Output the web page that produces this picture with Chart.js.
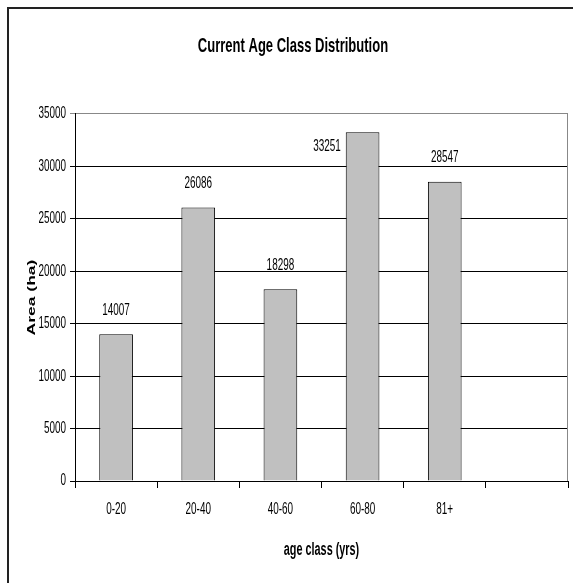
<!DOCTYPE html>
<html>
<head>
<meta charset="utf-8">
<title>Current Age Class Distribution</title>
<script src="https://cdn.jsdelivr.net/npm/chart.js@4/dist/chart.umd.min.js"></script>
<style>
    body { margin: 0; background: #fff; overflow: hidden; }
    #wrap { position: relative; width: 573px; height: 583px; }
    #frame {
        position: absolute; left: 7px; top: 7px; width: 600px; height: 600px;
        border-left: 2px solid #222; border-top: 2px solid #222;
    }
    canvas { position: absolute; left: 0; top: 0; }
</style>
</head>
<body>
<div id="wrap">
    <div id="frame"></div>
    <canvas id="ageChart" width="573" height="583"></canvas>
</div>
<script>
// chart data
const ageClasses = ['0-20', '20-40', '40-60', '60-80', '81+', ''];
const areaHa = [14007, 26086, 18298, 33251, 28547, null];
const yTicks = [0, 5000, 10000, 15000, 20000, 25000, 30000, 35000];

const font = '"Liberation Sans", Arial, sans-serif';

const ctx = document.getElementById('ageChart').getContext('2d');

// the original picture is squeezed sideways: draw all text narrower on screen x
const squeeze = 0.62;
const origFillText = ctx.fillText;
ctx.fillText = function (text, x, y) {
    const m = this.getTransform();
    const p = m.transformPoint(new DOMPoint(x, y));
    this.save();
    this.setTransform(squeeze * m.a, m.b, squeeze * m.c, m.d, p.x, p.y);
    origFillText.call(this, text, 0, 0);
    this.restore();
};

// value labels above the bars (moved to the left when there is no room)
const valueLabels = {
    id: 'valueLabels',
    afterDatasetsDraw(chart) {
        const c = chart.ctx;
        const meta = chart.getDatasetMeta(0);
        c.save();
        c.font = '16px ' + font;
        c.fillStyle = '#000';
        c.textBaseline = 'middle';
        meta.data.forEach(function (bar, i) {
            const v = areaHa[i];
            if (v == null) return;
            const y = bar.y - 24;
            if (y - 8 < chart.chartArea.top) {
                c.textAlign = 'right';
                c.fillText(String(v), bar.x - bar.width / 2 - 5, bar.y + 14);
            } else {
                c.textAlign = 'center';
                c.fillText(String(v), bar.x, y);
            }
        });
        c.restore();
    }
};

// grey right edge of the plot
const plotEdge = {
    id: 'plotEdge',
    afterDraw(chart) {
        const a = chart.chartArea;
        const c = chart.ctx;
        c.save();
        c.strokeStyle = '#888';
        c.lineWidth = 1;
        c.beginPath();
        c.moveTo(a.right - 0.5, a.top);
        c.lineTo(a.right - 0.5, a.bottom);
        c.stroke();
        c.restore();
    }
};

const ageChart = new Chart(ctx, {
    type: 'bar',
    data: {
        labels: ageClasses,
        datasets: [{
            label: 'Area (ha)',
            data: areaHa,
            backgroundColor: '#c0c0c0',
            borderColor: '#000',
            borderWidth: 1,
            barPercentage: 0.41,
            categoryPercentage: 1
        }]
    },
    options: {
        responsive: false,
        animation: false,
        layout: { padding: { left: 18, right: 5, top: 0, bottom: 0 } },
        plugins: {
            legend: { display: false },
            tooltip: { enabled: false },
            title: {
                display: true,
                text: 'Current Age Class Distribution',
                color: '#000',
                font: { family: font, size: 21, weight: 'bold', lineHeight: 1.2 },
                padding: { top: 33.4, bottom: 114 - 33.4 - 21 * 1.2 }
            }
        },
        scales: {
            x: {
                afterFit: function (scale) { scale.height = 102; },
                grid: {
                    offset: true,
                    drawOnChartArea: false,
                    drawTicks: true,
                    tickLength: 7,
                    color: '#000'
                },
                border: { display: true, color: '#000', width: 1 },
                ticks: {
                    color: '#000',
                    padding: 12,
                    font: { family: font, size: 16 }
                },
                title: {
                    display: true,
                    text: 'age class (yrs)',
                    color: '#000',
                    font: { family: font, size: 17.5, weight: 'bold' },
                    padding: { top: 0, bottom: 22.5 }
                }
            },
            y: {
                min: 0,
                max: 35000,
                afterFit: function (scale) { scale.width = 57; },
                afterBuildTicks: function (scale) {
                    scale.ticks = yTicks.map(function (v) { return { value: v }; });
                },
                grid: {
                    color: function (c) {
                        return c.tick && c.tick.value === 35000 ? '#888' : '#000';
                    },
                    drawTicks: true,
                    tickLength: 5
                },
                border: { display: true, color: '#000', width: 1 },
                ticks: {
                    color: '#000',
                    padding: 4,
                    font: { family: font, size: 16 },
                    callback: function (v) { return String(v); }
                },
                title: {
                    display: true,
                    text: 'Area (ha)',
                    color: '#000',
                    font: { family: font, size: 17.5, weight: 'bold' },
                    padding: { top: 3.5, bottom: 0 }
                }
            }
        }
    },
    plugins: [valueLabels, plotEdge]
});
</script>
</body>
</html>
